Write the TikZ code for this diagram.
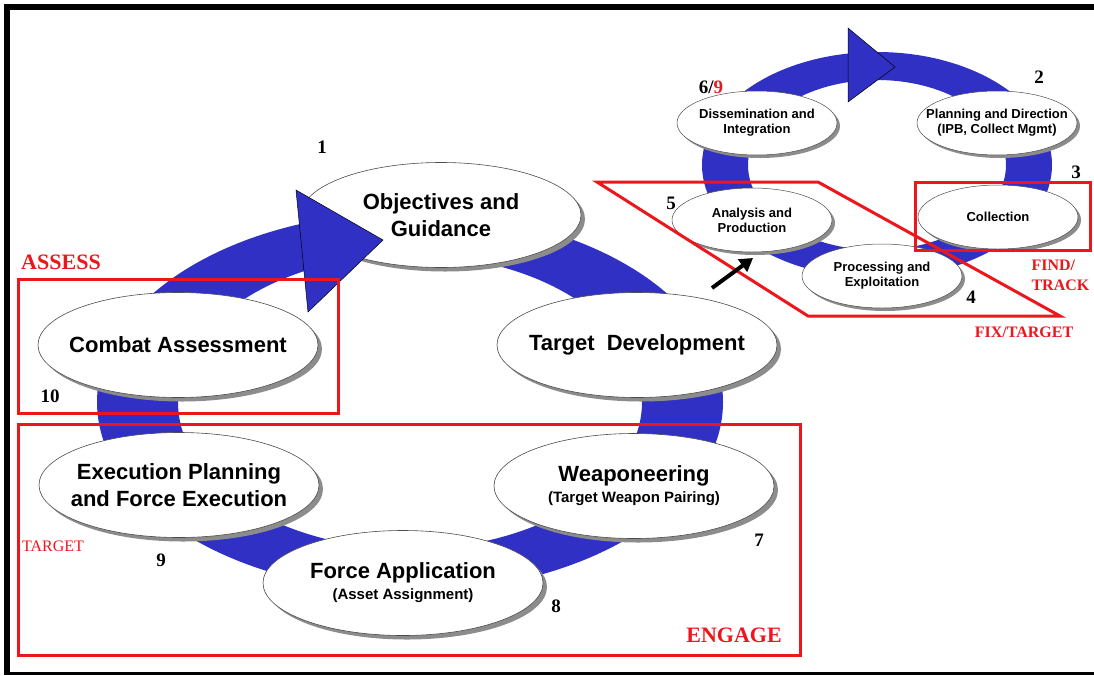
\documentclass[tikz,border=0pt]{standalone}
\usepackage{fontspec}
\setmainfont{Liberation Serif}
\newfontfamily\arialfont{Liberation Sans}
\usetikzlibrary{shapes.geometric}
\usetikzlibrary{shadows}
\usetikzlibrary{arrows.meta}
\definecolor{ringblue}{RGB}{48,48,196}
\definecolor{boxred}{RGB}{236,22,28}

\begin{document}
\begin{tikzpicture}[x=1pt, y=-1pt,
    bigstage/.style={ellipse, draw=black!70, line width=0.6pt, fill=white, inner sep=0pt,
      minimum width=280pt, minimum height=105pt,
      drop shadow={shadow xshift=4pt, shadow yshift=-4pt, fill=black!45, opacity=1}},
    smallstage/.style={ellipse, draw=black!70, line width=0.5pt, fill=white, inner sep=0pt,
      minimum width=160pt, minimum height=64pt,
      drop shadow={shadow xshift=3pt, shadow yshift=-3pt, fill=black!45, opacity=1}},
    bigtext/.style={align=center, font=\arialfont\bfseries\fontsize{22}{27}\selectfont},
    smalltext/.style={align=center, font=\arialfont\bfseries\fontsize{13}{15}\selectfont},
    stepnum/.style={font=\bfseries\fontsize{19}{19}\selectfont},
    redlabel/.style={text=boxred, font=\bfseries\fontsize{22}{22}\selectfont},
    redsmall/.style={text=boxred, font=\bfseries\fontsize{16}{20}\selectfont},
    redbox/.style={draw=boxred, line width=3pt},
    headtri/.style={fill=ringblue, draw=black, line width=0.5pt}]
    \useasboundingbox (0,0) rectangle (1094,675);
    % frame
    \fill [black] (4,4) rectangle (1094,10);
    \fill [black] (4,4) rectangle (10,675);
    \fill [black] (4,672) rectangle (1094,675);
    % rings
    \fill [ringblue, even odd rule] (410,402) ellipse (313 and 190) (410,402) ellipse (232 and 147);
    \fill [ringblue, even odd rule] (877,165) ellipse (175 and 113) (877,165) ellipse (129 and 85);
    % targeting cycle
    \node [bigstage] (obj) at (441,215) {};
    \node [bigstage] (tdev) at (637,345) {};
    \node [bigstage] (wpn) at (634,486) {};
    \node [bigstage] (fapp) at (403,583) {};
    \node [bigstage] (exec) at (179,485) {};
    \node [bigstage] (cmbt) at (178,345) {};
    \node [bigtext] (obj-t) at (obj) {Objectives and\\Guidance};
    \node [bigtext] (tdev-t) at (tdev) {Target\ \ Development};
    \node [bigtext] (wpn-t) at (wpn) {Weaponeering\\[-6pt]{\fontsize{15}{17}\selectfont (Target Weapon Pairing)}};
    \node [bigtext] (fapp-t) at (fapp) {Force Application\\[-6pt]{\fontsize{15}{17}\selectfont (Asset Assignment)}};
    \node [bigtext] (exec-t) at (exec) {Execution Planning\\and Force Execution};
    \node [bigtext] (cmbt-t) at (cmbt) {Combat Assessment};
    % intelligence cycle
    \node [smallstage] (diss) at (757,123) {};
    \node [smallstage] (plan) at (997,123) {};
    \node [smallstage] (coll) at (998,217) {};
    \node [smallstage] (proc) at (882,276) {};
    \node [smallstage] (anal) at (752,220) {};
    \node [smalltext] (diss-t) at (diss) {Dissemination and\\Integration};
    \node [smalltext] (plan-t) at (plan) {Planning and Direction\\(IPB, Collect Mgmt)};
    \node [smalltext] (coll-t) at (coll) {Collection};
    \node [smalltext] (proc-t) at (proc) {Processing and\\Exploitation};
    \node [smalltext] (anal-t) at (anal) {Analysis and\\Production};
    % arrow heads
    \filldraw [headtri] (296,190) -- (383,240) -- (308,312) -- cycle;
    \filldraw [headtri] (848,28) -- (895,67) -- (848,102) -- cycle;
    % red frames
    \draw [redbox] (18,279) rectangle (338,413);
    \draw [redbox] (18,424) rectangle (800,655);
    \draw [redbox] (915,182) rectangle (1090,250);
    \draw [redbox] (597,182) -- (818,182) -- (1060,316) -- (808,316) -- cycle;
    \node [redlabel] (assess) at (61,262) {ASSESS};
    \node [redlabel] (engage) at (734,635) {ENGAGE};
    \node [text=boxred, font=\fontsize{16}{16}\selectfont] (target) at (53,546) {TARGET};
    \node [redsmall, align=left, anchor=west] (findtrack) at (1028,275) {FIND/\\TRACK};
    \node [redsmall] (fixtarget) at (1024,332) {FIX/TARGET};
    % step numbers
    \node [stepnum] (n1) at (322,147) {1};
    \node [stepnum] (n2) at (1039,77) {2};
    \node [stepnum] (n3) at (1076,172) {3};
    \node [stepnum] (n4) at (971,297) {4};
    \node [stepnum] (n5) at (671,203) {5};
    \node [stepnum] (n69) at (711,87) {6/\textcolor{boxred}{9}};
    \node [stepnum] (n7) at (759,540) {7};
    \node [stepnum] (n8) at (556,606) {8};
    \node [stepnum] (n9) at (161,560) {9};
    \node [stepnum] (n10) at (50,396) {10};
    % pointer
    \coordinate (ptrtail) at (712,288);
    \coordinate (ptrtip) at (753,258);
    \draw [line width=4pt, -{Triangle[length=13pt, width=15pt]}] (ptrtail) -- (ptrtip);
\end{tikzpicture}
\end{document}
